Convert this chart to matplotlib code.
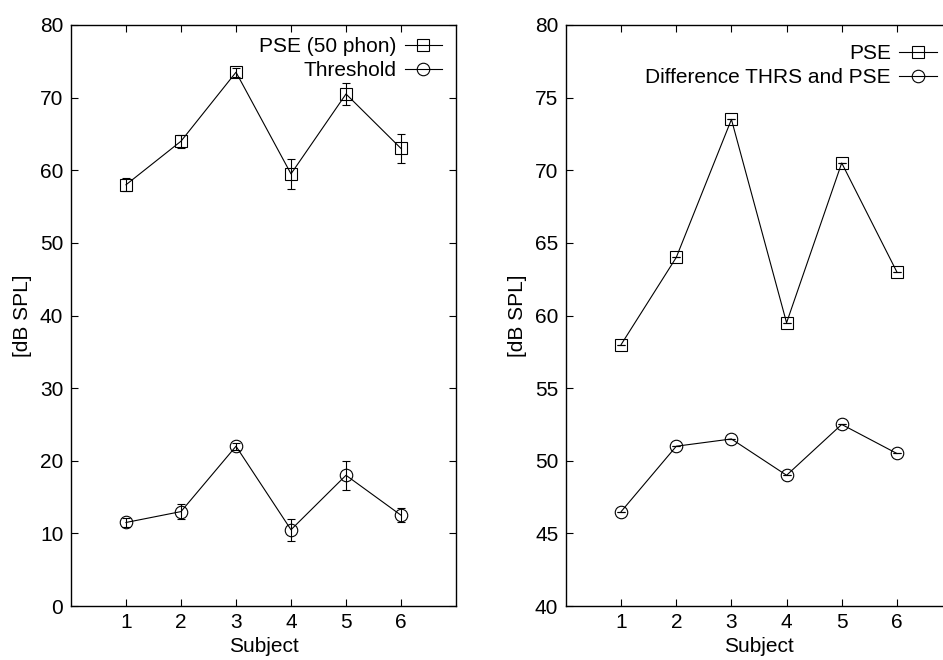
import matplotlib.pyplot as plt

plt.rcParams['font.family'] = ['Liberation Sans', 'DejaVu Sans']
plt.rcParams['font.size'] = 15

# Datos
sujetos = [1, 2, 3, 4, 5, 6]
pse_50 = [58, 64, 73.5, 59.5, 70.5, 63]
pse_50_err = [0.9, 0.9, 0.6, 2.1, 1.5, 2.0]
umbral = [11.5, 13, 22, 10.5, 18, 12.5]
umbral_err = [0.6, 1.0, 0.5, 1.5, 2.0, 1.0]

pse = [58, 64, 73.5, 59.5, 70.5, 63]
diferencia = [46.5, 51, 51.5, 49, 52.5, 50.5]
cero_err = [0, 0, 0, 0, 0, 0]

fig = plt.figure(figsize=(9.43, 6.6), dpi=100)
ax1 = fig.add_axes([71 / 943, 1 - 606 / 660, 385 / 943, 581 / 660])
ax2 = fig.add_axes([566 / 943, 1 - 606 / 660, 386 / 943, 581 / 660])

estilo = dict(color='black', linewidth=0.8, markersize=9, markerfacecolor='none',
              markeredgecolor='black', markeredgewidth=0.8)
estilo_err = dict(fmt='none', ecolor='black', elinewidth=0.8, capsize=3, capthick=0.8)
estilo_leyenda = dict(loc='upper right', frameon=False, markerfirst=False,
                      borderpad=0, borderaxespad=0, handlelength=1.8,
                      handletextpad=0.4, labelspacing=0.25, fontsize=15)


def dibujar(ax, y1, e1, y2, e2, etiquetas):
    ax.errorbar(sujetos, y1, yerr=e1, **estilo_err)
    ax.errorbar(sujetos, y2, yerr=e2, **estilo_err)
    ax.plot(sujetos, y1, marker='s', label=etiquetas[0], **estilo)
    ax.plot(sujetos, y2, marker='o', label=etiquetas[1], **estilo)
    ax.set_xlim(0, 7)
    ax.set_xticks(sujetos)
    ax.tick_params(direction='in', top=True, right=True, length=5, width=0.8,
                   labelsize=15)
    ax.tick_params(axis='y', pad=5.5)
    ax.tick_params(axis='x', pad=5)
    ax.set_xlabel('Subject', fontsize=15, labelpad=4)
    ax.set_ylabel('[dB SPL]', fontsize=15, labelpad=6)
    for s in ax.spines.values():
        s.set_linewidth(1.0)


dibujar(ax1, pse_50, pse_50_err, umbral, umbral_err, ['PSE (50 phon)', 'Threshold'])
ax1.set_ylim(0, 80)
ax1.set_yticks(range(0, 81, 10))
ax1.legend(bbox_to_anchor=(0.964, 0.979), **estilo_leyenda)

dibujar(ax2, pse, cero_err, diferencia, cero_err, ['PSE', 'Difference THRS and PSE'])
ax2.set_ylim(40, 80)
ax2.set_yticks(range(40, 81, 5))
ax2.legend(bbox_to_anchor=(0.961, 0.967), **estilo_leyenda)

fig.savefig('out.png', dpi=100)
